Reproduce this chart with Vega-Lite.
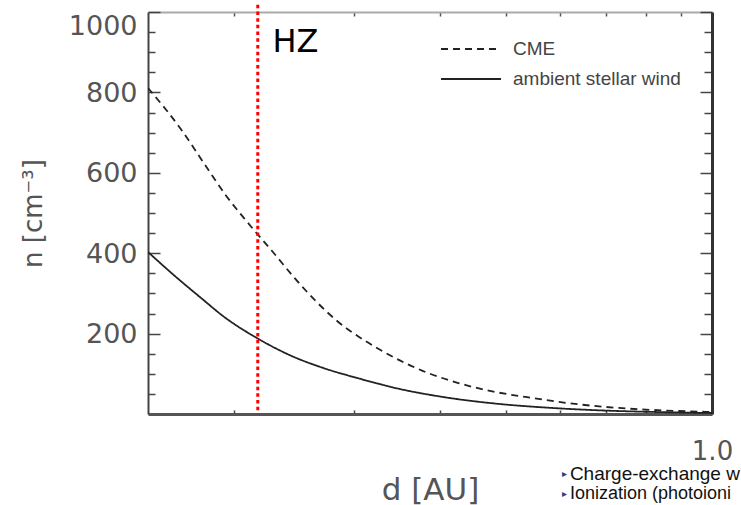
{
  "$schema": "https://vega.github.io/schema/vega-lite/v6.json",
  "width": 564,
  "height": 402,
  "autosize": {"type": "none"},
  "padding": {"left": 148, "top": 12, "right": 29, "bottom": 91},
  "background": "white",
  "config": {"view": {"stroke": null}, "font": "DejaVu Sans"},
  "datasets": {
    "curves": [
      {"series": "CME", "d": 0.150, "n": 811},
      {"series": "CME", "d": 0.168, "n": 706},
      {"series": "CME", "d": 0.181, "n": 624},
      {"series": "CME", "d": 0.1947, "n": 545},
      {"series": "CME", "d": 0.207, "n": 488},
      {"series": "CME", "d": 0.2174, "n": 445},
      {"series": "CME", "d": 0.2283, "n": 403},
      {"series": "CME", "d": 0.2457, "n": 338},
      {"series": "CME", "d": 0.2644, "n": 279},
      {"series": "CME", "d": 0.2845, "n": 229},
      {"series": "CME", "d": 0.310, "n": 184},
      {"series": "CME", "d": 0.342, "n": 142},
      {"series": "CME", "d": 0.377, "n": 108},
      {"series": "CME", "d": 0.426, "n": 77},
      {"series": "CME", "d": 0.482, "n": 55},
      {"series": "CME", "d": 0.545, "n": 40},
      {"series": "CME", "d": 0.631, "n": 25},
      {"series": "CME", "d": 0.731, "n": 15},
      {"series": "CME", "d": 0.846, "n": 9},
      {"series": "CME", "d": 1.0, "n": 5},
      {"series": "ambient stellar wind", "d": 0.150, "n": 403},
      {"series": "ambient stellar wind", "d": 0.164, "n": 344},
      {"series": "ambient stellar wind", "d": 0.1786, "n": 291},
      {"series": "ambient stellar wind", "d": 0.1947, "n": 239},
      {"series": "ambient stellar wind", "d": 0.2174, "n": 187},
      {"series": "ambient stellar wind", "d": 0.2427, "n": 145},
      {"series": "ambient stellar wind", "d": 0.271, "n": 114},
      {"series": "ambient stellar wind", "d": 0.3025, "n": 90},
      {"series": "ambient stellar wind", "d": 0.3503, "n": 62},
      {"series": "ambient stellar wind", "d": 0.4058, "n": 42},
      {"series": "ambient stellar wind", "d": 0.482, "n": 26},
      {"series": "ambient stellar wind", "d": 0.5718, "n": 16},
      {"series": "ambient stellar wind", "d": 0.6872, "n": 9},
      {"series": "ambient stellar wind", "d": 0.8255, "n": 5},
      {"series": "ambient stellar wind", "d": 1.0, "n": 2.5}
    ]
  },
  "layer": [
    {
      "data": {"name": "curves"},
      "mark": {"type": "line", "strokeWidth": 1.8, "color": "#222222", "interpolate": "monotone", "clip": true},
      "encoding": {
        "x": {
          "field": "d", "type": "quantitative",
          "scale": {"type": "log", "domain": [0.15, 1.0], "nice": false},
          "axis": {
            "orient": "bottom",
            "values": [0.2, 0.3, 0.4, 0.5, 0.6, 0.7, 0.8, 0.9, 1.0],
            "labelExpr": "datum.value == 1 ? '1.0' : ''",
            "tickSize": -4, "tickColor": "#444444", "tickWidth": 1.5,
            "domainColor": "#555555", "domainWidth": 3,
            "labelFont": "DejaVu Sans", "labelFontSize": 26, "labelColor": "#555555",
            "labelPadding": 28, "labelFlush": false, "labelOverlap": false, "labelBound": false,
            "grid": false,
            "title": "d [AU]", "titleFont": "DejaVu Sans", "titleFontSize": 31, "titleFontWeight": "normal",
            "titleColor": "#555555", "titlePadding": 11
          }
        },
        "y": {
          "field": "n", "type": "quantitative",
          "scale": {"domain": [0, 1000], "nice": false},
          "axis": {
            "orient": "left",
            "values": [50, 100, 150, 200, 250, 300, 350, 400, 450, 500, 550, 600, 650, 700, 750, 800, 850, 900, 950, 1000],
            "labelExpr": "datum.value % 200 === 0 ? '' + datum.value : ''",
            "tickSize": {"condition": {"test": "datum.value % 200 === 0", "value": -12}, "value": -7},
            "tickColor": "#444444", "tickWidth": 1.5,
            "domainColor": "#444444", "domainWidth": 2,
            "labelFont": "DejaVu Sans", "labelFontSize": 27, "labelColor": "#555555",
            "labelPadding": 23, "labelFlush": true, "labelOverlap": false, "labelBound": false,
            "labelOffset": 1,
            "grid": false,
            "title": "n [cm⁻³]", "titleFont": "DejaVu Sans", "titleFontSize": 26, "titleFontWeight": "normal",
            "titleColor": "#555555", "titlePadding": 22
          }
        },
        "strokeDash": {
          "field": "series", "type": "nominal",
          "scale": {"domain": ["CME", "ambient stellar wind"], "range": [[7, 5], [1, 0]]},
          "legend": {
            "orient": "none", "legendX": 312, "legendY": 26, "title": null,
            "symbolType": "M-3,0H3", "symbolSize": 400,
            "symbolStrokeColor": "#222222", "symbolStrokeWidth": 2,
            "labelFont": "Liberation Sans", "labelFontSize": 19, "labelColor": "#444444",
            "labelLimit": 0, "labelOffset": 31, "rowPadding": 9
          }
        }
      }
    },
    {
      "data": {"values": [{}]},
      "mark": {"type": "rule", "color": "#ff0000", "strokeWidth": 3, "strokeDash": [3.5, 3.2]},
      "encoding": {
        "x": {
          "datum": 0.217, "type": "quantitative",
          "scale": {"type": "log", "domain": [0.15, 1.0], "nice": false},
          "axis": {
            "orient": "top",
            "values": [0.2, 0.3, 0.4, 0.5, 0.6, 0.7, 0.8, 0.9],
            "labels": false, "tickSize": -4, "tickColor": "#555555", "tickWidth": 1.5,
            "domainColor": "#aaaaaa", "domainWidth": 2, "grid": false, "title": null
          }
        },
        "y": {
          "datum": 1018, "type": "quantitative",
          "scale": {"domain": [0, 1000], "nice": false},
          "axis": {
            "orient": "right",
            "values": [50, 100, 150, 200, 250, 300, 350, 400, 450, 500, 550, 600, 650, 700, 750, 800, 850, 900, 950, 1000],
            "labels": false,
            "tickSize": {"condition": {"test": "datum.value % 200 === 0", "value": -12}, "value": -8},
            "tickColor": "#444444", "tickWidth": 1.5,
            "domainColor": "#333333", "domainWidth": 3, "grid": false, "title": null
          }
        },
        "y2": {"datum": 0}
      }
    },
    {
      "data": {"values": [{}]},
      "mark": {"type": "text", "text": "HZ", "font": "DejaVu Sans", "fontSize": 32, "align": "left", "baseline": "alphabetic", "color": "#000000"},
      "encoding": {
        "x": {"datum": 0.228, "type": "quantitative", "axis": null},
        "y": {"datum": 900, "type": "quantitative", "axis": null}
      }
    },
    {
      "data": {"values": [{}]},
      "mark": {"type": "text", "text": "▸", "font": "DejaVu Sans", "fontSize": 10, "align": "left", "baseline": "middle", "color": "#3a3a80"},
      "encoding": {
        "x": {"datum": 0.604, "type": "quantitative", "axis": null},
        "y": {"datum": -149, "type": "quantitative", "axis": null}
      }
    },
    {
      "data": {"values": [{}]},
      "mark": {"type": "text", "text": "Charge-exchange w", "font": "Liberation Sans", "fontSize": 19, "align": "left", "baseline": "middle", "color": "#111111"},
      "encoding": {
        "x": {"datum": 0.620, "type": "quantitative", "axis": null},
        "y": {"datum": -149, "type": "quantitative", "axis": null}
      }
    },
    {
      "data": {"values": [{}]},
      "mark": {"type": "text", "text": "▸", "font": "DejaVu Sans", "fontSize": 10, "align": "left", "baseline": "middle", "color": "#3a3a80"},
      "encoding": {
        "x": {"datum": 0.604, "type": "quantitative", "axis": null},
        "y": {"datum": -199, "type": "quantitative", "axis": null}
      }
    },
    {
      "data": {"values": [{}]},
      "mark": {"type": "text", "text": "Ionization (photoioni", "font": "Liberation Sans", "fontSize": 18, "align": "left", "baseline": "middle", "color": "#111111"},
      "encoding": {
        "x": {"datum": 0.620, "type": "quantitative", "axis": null},
        "y": {"datum": -199, "type": "quantitative", "axis": null}
      }
    }
  ],
  "resolve": {"axis": {"x": "independent", "y": "independent"}}
}
